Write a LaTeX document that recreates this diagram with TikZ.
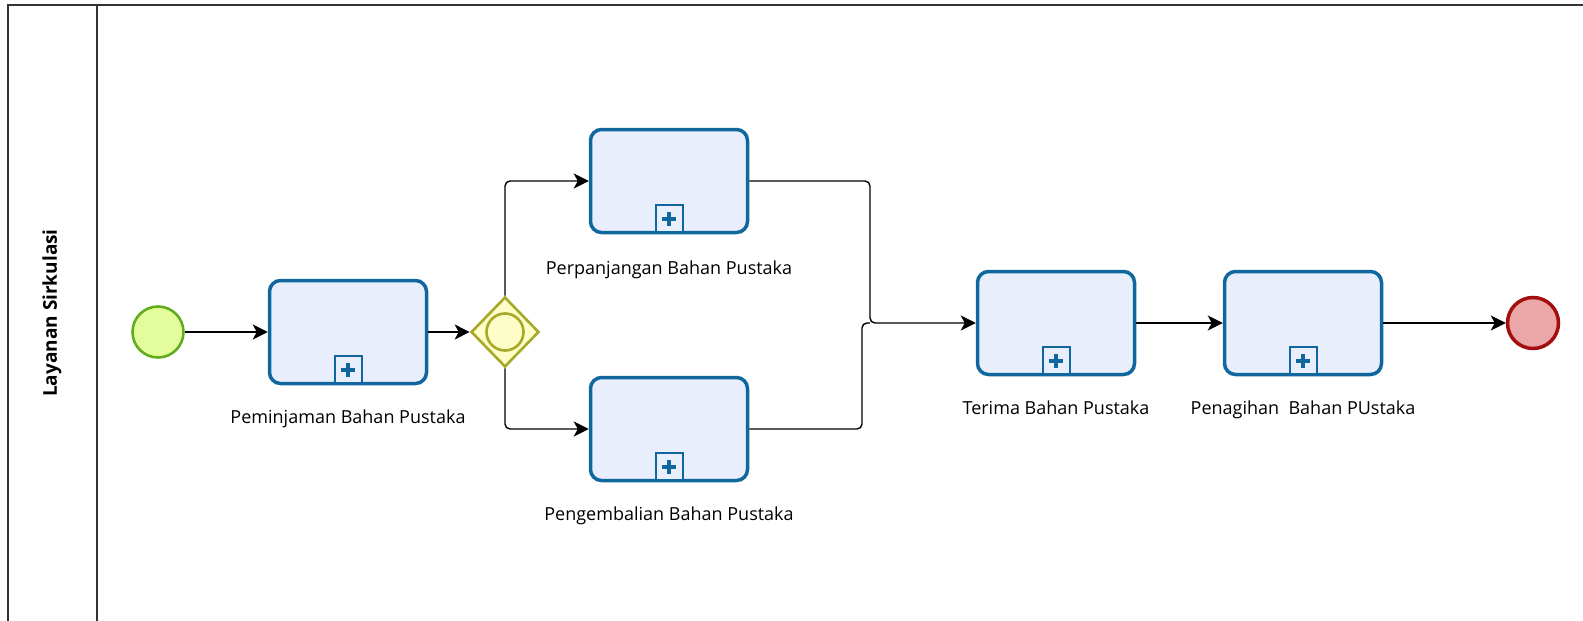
\documentclass[tikz,border=0pt]{standalone}
\usepackage{fontspec}
\setmainfont{Open Sans}
\usetikzlibrary{arrows.meta,shapes.geometric,calc}
\definecolor{taskline}{HTML}{10679E}
\definecolor{taskfill}{HTML}{E9EEFD}
\definecolor{startline}{HTML}{64AC1C}
\definecolor{startfill}{HTML}{E4FD9C}
\definecolor{gwline}{HTML}{A8A82A}
\definecolor{gwfill}{HTML}{FDFDC8}
\definecolor{endline}{HTML}{A30F0F}
\definecolor{endfill}{HTML}{EBA7A7}
\definecolor{poolline}{HTML}{333333}
\tikzset{
  task/.style={draw=taskline, fill=taskfill, line width=3.5pt, rounded corners=11pt,
    minimum width=157pt, minimum height=103pt, inner sep=0pt},
  marker/.style={draw=taskline, fill=taskfill, line width=2pt, minimum width=27pt,
    minimum height=27pt, inner sep=0pt, anchor=south},
  plussign/.style={draw=taskline, line width=4pt},
  lbl/.style={font=\fontsize{18}{20}\selectfont, text=black, inner sep=0pt, anchor=base},
  flow/.style={draw=black, line width=1.4pt, rounded corners=5pt,
    -{Stealth[length=15pt,width=15pt,inset=4pt]}},
  plain/.style={draw=black, line width=1.4pt, rounded corners=5pt},
  pool/.style={draw=poolline, line width=1.4pt},
}
\begin{document}
\begin{tikzpicture}[x=1pt,y=-1pt]
\useasboundingbox (0,0) rectangle (1583,621);
\clip (0,0) rectangle (1583,621);
% pool and lane
\draw[pool] (8,640) -- (8,5) -- (1600,5);
\draw[pool] (97,5) -- (97,640);
\node[rotate=90, font=\bfseries\fontsize{19}{21}\selectfont, inner sep=0pt] (lane) at (52,313) {Layanan Sirkulasi};
% events and gateway
\node[circle, draw=startline, fill=startfill, line width=2.6pt, minimum size=51pt, inner sep=0pt] (start) at (158,332) {};
\node[diamond, aspect=1, draw=gwline, fill=gwfill, line width=2.6pt, minimum width=68pt, minimum height=70pt, inner sep=0pt] (gw) at (505,332) {};
\node[circle, draw=gwline, line width=2.6pt, minimum size=37pt, inner sep=0pt] (gwc) at (gw.center) {};
\node[circle, draw=endline, fill=endfill, line width=3.5pt, minimum size=51pt, inner sep=0pt] (end) at (1533,323) {};
% tasks
\node[task] (t1) at (348,332) {};
\node[task] (t2) at (669,181) {};
\node[task] (t3) at (669,429) {};
\node[task] (t4) at (1056,323) {};
\node[task] (t5) at (1303,323) {};
\foreach \t in {t1,t2,t3,t4,t5}{
  \node[marker] (\t m) at ($(\t.south)+(0,-1)$) {};
  \draw[plussign] ($(\t m.center)+(-7,0)$) -- ($(\t m.center)+(7,0)$);
  \draw[plussign] ($(\t m.center)+(0,-7)$) -- ($(\t m.center)+(0,7)$);
}
% labels
\node[lbl] (l1) at ($(t1.south)+(0,38.5)$) {Peminjaman Bahan Pustaka};
\node[lbl] (l2) at ($(t2.south)+(0,40)$) {Perpanjangan Bahan Pustaka};
\node[lbl] (l3) at ($(t3.south)+(0,38.5)$) {Pengembalian Bahan Pustaka};
\node[lbl] (l4) at ($(t4.south)+(0,38.5)$) {Terima Bahan Pustaka};
\node[lbl] (l5) at ($(t5.south)+(0,38.5)$) {Penagihan\ \ Bahan PUstaka};
% junction points
\coordinate (jt) at (870,323);
\coordinate (jb) at (862,323);
% flows
\draw[flow] (start) -- (t1);
\draw[flow] (t1) -- (gw);
\draw[flow] (gw.north) |- (t2.west);
\draw[flow] (gw.south) |- (t3.west);
\draw[plain] (t3.east) -| (jb) -- (jt);
\draw[flow] (t2.east) -| (jt) -- (t4.west);
\draw[flow] (t4) -- (t5);
\draw[flow] (t5) -- (end);
\end{tikzpicture}
\end{document}
